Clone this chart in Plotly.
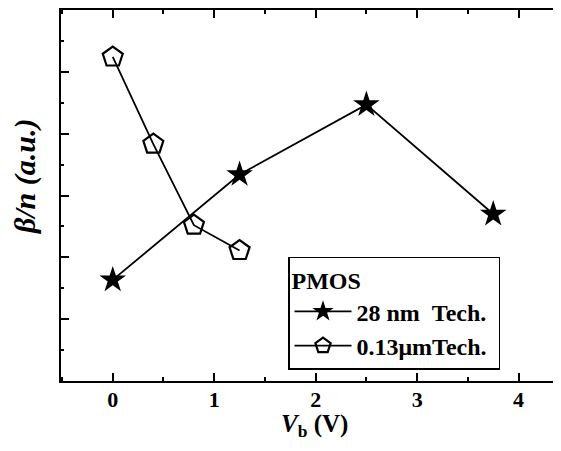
import plotly.graph_objects as go

# Data
vb_28nm = [0.0, 1.25, 2.5, 3.75]
beta_28nm = [1.635, 3.34, 4.47, 2.70]
vb_013um = [0.0, 0.4, 0.8, 1.25]
beta_013um = [5.24, 3.83, 2.52, 2.11]
series_names = ["28 nm\u00a0\u00a0Tech.", "0.13\u03bcmTech.\u00a0"]
x_tick_vals = [0, 1, 2, 3, 4]
x_tick_text = ["0", "1", "2", "3", "4"]

FONT = "Liberation Serif"

W, H = 553, 443
L, R, T, B = 53, 0, 0, 70
dom_w = W - L - R
dom_h = H - T - B
def px_x(p):
    return (p - 8 - L) / dom_w
def px_y(p):
    return (H - B - (p - 8)) / dom_h

fig = go.Figure()
fig.add_trace(go.Scatter(
    x=vb_28nm, y=beta_28nm, mode="lines+markers", name=series_names[0],
    line=dict(color="black", width=1.8),
    marker=dict(symbol="star", size=20, color="black"),
))
fig.add_trace(go.Scatter(
    x=vb_013um, y=beta_013um, mode="lines+markers", name=series_names[1],
    line=dict(color="black", width=1.8),
    marker=dict(symbol="pentagon-open", size=21, color="black", line=dict(width=2.2, color="black")),
))

xr = [-0.51, 4.418]
fig.update_layout(
    width=W, height=H,
    margin=dict(l=L, r=R, t=T, b=B),
    paper_bgcolor="white", plot_bgcolor="white",
    font=dict(family=FONT, color="black", size=24),
    showlegend=True,
    legend=dict(
        x=px_x(288), y=px_y(256), xanchor="left", yanchor="top",
        bgcolor="white", bordercolor="black", borderwidth=1.5,
        font=dict(family=FONT, size=24, color="black", weight="bold"),
        title=dict(text="<b>PMOS</b>", font=dict(family=FONT, size=24, color="black")),
        itemwidth=57, tracegroupgap=0,
    ),
    xaxis=dict(
        range=xr, showgrid=False, zeroline=False,
        showline=True, linecolor="black", linewidth=2.2, mirror="allticks",
        tickmode="array", tickvals=x_tick_vals, ticktext=x_tick_text,
        ticks="inside", ticklen=8, tickwidth=2, tickcolor="black",
        ticklabelstandoff=-3,
        tickfont=dict(family=FONT, size=22, color="black", weight="bold"),
        minor=dict(tickmode="linear", tick0=0, dtick=0.5, ticks="inside",
                   ticklen=4, tickwidth=1.6, tickcolor="black"),
    ),
    yaxis=dict(
        range=[0, 6], showgrid=False, zeroline=False,
        showline=True, linecolor="black", linewidth=2.2, mirror=False,
        tickmode="linear", tick0=0, dtick=1,
        ticks="inside", ticklen=8, tickwidth=1.6, tickcolor="black",
        showticklabels=False,
        minor=dict(tickmode="linear", tick0=0, dtick=0.5, ticks="inside",
                   ticklen=3, tickwidth=1.5, tickcolor="black"),
    ),
    annotations=[
        dict(text="<b><i>V</i><sub>b</sub> (V)</b>", xref="paper", yref="paper",
             x=px_x(314.5), y=px_y(426), xanchor="center", yanchor="middle",
             showarrow=False, font=dict(family=FONT, size=25, color="black")),
        dict(text="<b><i>\u03b2/n (a.u.)</i></b>", xref="paper", yref="paper",
             x=px_x(25), y=px_y(175), xanchor="center", yanchor="middle",
             textangle=-90, showarrow=False, font=dict(family=FONT, size=30, color="black")),
    ],
)

fig.write_html("out.html")
